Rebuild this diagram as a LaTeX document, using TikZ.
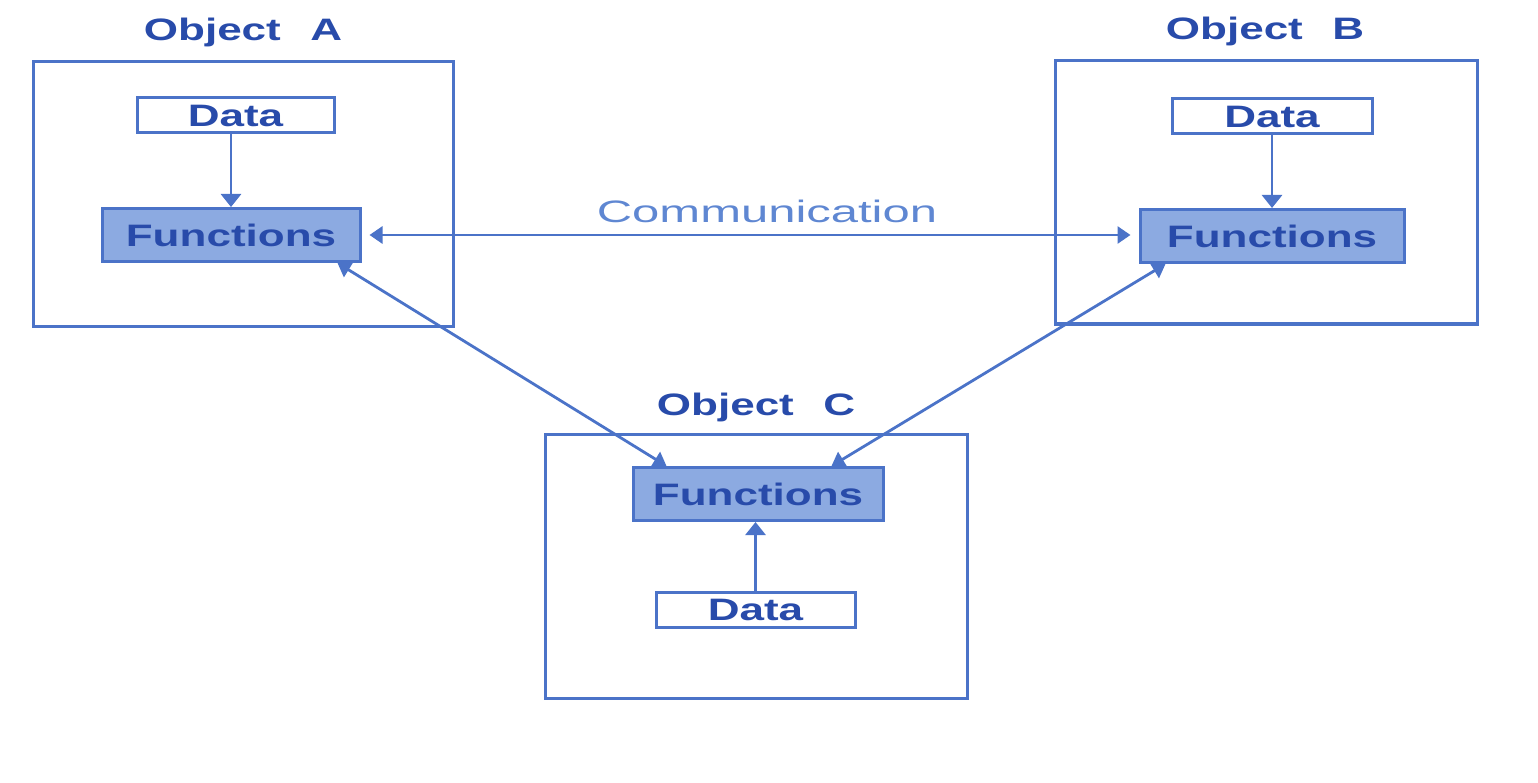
\documentclass[tikz,border=0pt]{standalone}
\usepackage{fontspec}
\setmainfont{Liberation Sans}
\newfontfamily\widebold[FakeStretch=1.42]{Liberation Sans Bold}
\newfontfamily\widereg[FakeStretch=1.58]{Liberation Sans}
\usetikzlibrary{arrows.meta}
\definecolor{txtblue}{RGB}{40,75,170}
\definecolor{lineblue}{RGB}{75,115,200}
\definecolor{fillblue}{RGB}{140,170,225}
\definecolor{lightblue}{RGB}{95,135,210}
\tikzset{
  objbox/.style={draw=lineblue, line width=3pt, inner sep=0pt},
  databox/.style={draw=lineblue, line width=3pt, fill=white, inner sep=0pt,
    minimum width=197pt, minimum height=35pt, font=\widebold\fontsize{31}{31}\selectfont, text=txtblue},
  funcbox/.style={draw=lineblue, line width=3pt, fill=fillblue, inner sep=0pt,
    minimum height=53pt, font=\widebold\fontsize{31}{31}\selectfont, text=txtblue},
  objlabel/.style={font=\widebold\fontsize{31}{31}\selectfont, text=txtblue, inner sep=0pt},
  conn/.style={draw=lineblue, line width=2.8pt},
  tip/.style={-{Triangle[width=20pt,length=13pt]}},
  dtip/.style={{Triangle[width=17pt,length=13pt]}-{Triangle[width=17pt,length=13pt]}}
}
\begin{document}
\begin{tikzpicture}[x=1pt,y=-1pt]
\useasboundingbox (0,0) rectangle (1538,783);
% Object boxes
\node[objbox, minimum width=420pt, minimum height=264pt] (oa) at (243,194) {};
\node[objbox, minimum width=422pt, minimum height=263pt] (ob) at (1266,192.5) {};
\node[objbox, minimum width=422pt, minimum height=264pt] (oc) at (756,566) {};
% labels
\node[objlabel] (la) at (243,32) {Object\hspace{0.95em}A};
\node[objlabel] (lb) at (1265,31) {Object\hspace{0.95em}B};
\node[objlabel] (lc) at (756,407) {Object\hspace{0.95em}C};
% inner nodes
\node[databox] (da) at (235.5,115.5) {Data};
\node[funcbox, minimum width=258pt] (fa) at (231,235) {Functions};
\node[databox, minimum width=200pt] (db) at (1272,116.5) {Data};
\node[funcbox, minimum width=264pt] (fb) at (1272,236) {Functions};
\node[funcbox, minimum width=250pt] (fc) at (758,494) {Functions};
\node[databox, minimum width=199pt] (dc) at (755.5,610) {Data};
% communication
\node[font=\widereg\fontsize{31}{31}\selectfont, text=lightblue, inner sep=0pt] (comm) at (767,211) {Communication};
\draw[conn, dtip, shorten <=8pt, shorten >=8pt] (fa.east) -- (fa.east -| fb.west);
% data -> functions
\draw[conn, tip] (fa.north |- da.south) -- (fa.north);
\draw[conn, tip] (db.south) -- (fb.north);
\draw[conn, tip] (dc.north) -- (fc.south -| dc.north);
% diagonals
\draw[conn, dtip] ([xshift=-24pt]fa.south east) -- ([xshift=35pt]fc.north west);
\draw[conn, dtip] ([xshift=27pt]fb.south west) -- ([xshift=-53pt]fc.north east);
\end{tikzpicture}
\end{document}
